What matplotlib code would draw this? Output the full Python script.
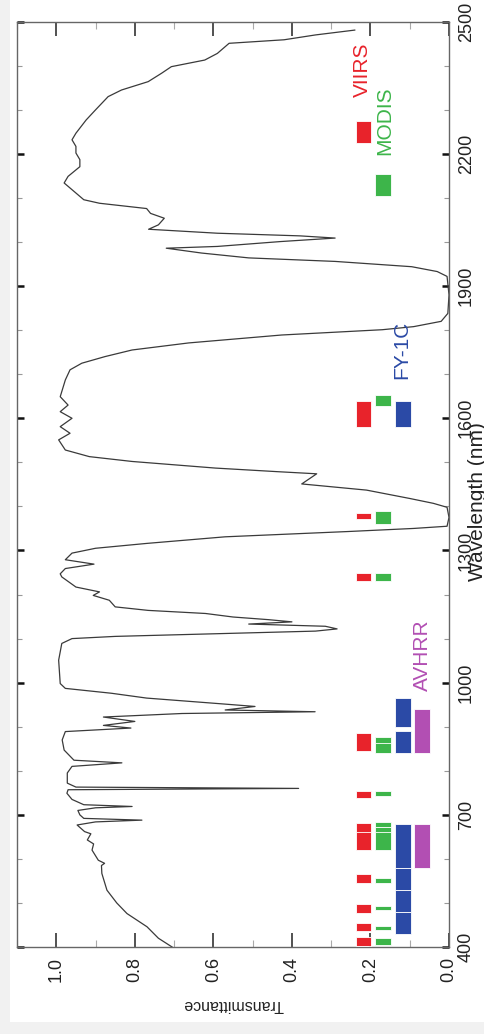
import numpy as np
import matplotlib
matplotlib.use("Agg")
import matplotlib.pyplot as plt
from matplotlib.patches import Rectangle

plt.rcParams['font.family'] = ['Liberation Sans', 'DejaVu Sans']

# atmospheric transmittance
wavelength = [400, 420, 446, 476, 500, 529, 567, 585, 590, 597, 620, 634, 643, 657, 662,
              677, 684, 688, 692, 700, 710, 716, 719, 723, 735, 749, 757, 760, 763, 772,
              795, 810, 818, 824, 847, 870, 889, 897, 903, 912, 922, 930, 934, 938, 946,
              952, 965, 976, 987, 998, 1051, 1089, 1100, 1105, 1111, 1117, 1122, 1128,
              1133, 1138, 1143, 1149, 1157, 1164, 1172, 1187, 1198, 1206, 1217, 1240,
              1247, 1259, 1269, 1274, 1279, 1294, 1305, 1316, 1331, 1343, 1350, 1355,
              1375, 1398, 1407, 1418, 1437, 1451, 1474, 1479, 1487, 1502, 1513, 1528,
              1551, 1566, 1581, 1600, 1615, 1630, 1649, 1687, 1710, 1725, 1740, 1755,
              1771, 1789, 1801, 1808, 1820, 1838, 1880, 1922, 1933, 1944, 1956, 1964,
              1975, 1986, 1990, 2001, 2009, 2014, 2020, 2029, 2039, 2054, 2065, 2076,
              2088, 2096, 2134, 2149, 2171, 2187, 2202, 2217, 2232, 2247, 2277, 2300,
              2330, 2345, 2364, 2383, 2398, 2413, 2428, 2451, 2459, 2470, 2481]
transmittance = [0.705, 0.74, 0.769, 0.82, 0.846, 0.871, 0.884, 0.885, 0.877, 0.893, 0.909,
                 0.905, 0.921, 0.912, 0.928, 0.947, 0.90, 0.782, 0.93, 0.94, 0.945, 0.90,
                 0.807, 0.93, 0.96, 0.973, 0.97, 0.383, 0.95, 0.972, 0.972, 0.96, 0.833,
                 0.955, 0.98, 0.985, 0.977, 0.81, 0.88, 0.80, 0.88, 0.68, 0.341, 0.57,
                 0.494, 0.58, 0.77, 0.86, 0.977, 0.99, 0.994, 0.986, 0.96, 0.85, 0.595,
                 0.34, 0.285, 0.315, 0.51, 0.40, 0.46, 0.55, 0.62, 0.766, 0.85, 0.865,
                 0.906, 0.89, 0.95, 0.986, 0.99, 0.977, 0.904, 0.94, 0.977, 0.96, 0.90,
                 0.77, 0.57, 0.257, 0.09, 0.005, 0.0, 0.005, 0.04, 0.10, 0.21, 0.375,
                 0.337, 0.44, 0.595, 0.807, 0.916, 0.977, 0.994, 0.965, 0.99, 0.96, 0.99,
                 0.97, 0.99, 0.977, 0.965, 0.935, 0.876, 0.807, 0.663, 0.426, 0.17, 0.09,
                 0.02, 0.003, 0.0, 0.005, 0.03, 0.095, 0.29, 0.51, 0.63, 0.72, 0.59, 0.43,
                 0.29, 0.38, 0.59, 0.765, 0.74, 0.725, 0.76, 0.77, 0.89, 0.93, 0.98, 0.97,
                 0.94, 0.94, 0.95, 0.95, 0.96, 0.95, 0.924, 0.90, 0.868, 0.834, 0.766,
                 0.732, 0.707, 0.622, 0.59, 0.56, 0.42, 0.34, 0.24]

# sensor bands (nm)
sensors = ['VIIRS', 'MODIS', 'FY-1C', 'AVHRR']
viirs_bands = [(402, 422), (436, 454), (478, 498), (545, 565), (620, 680), (662, 682),
               (739, 754), (846, 885), (1230, 1250), (1371, 1386), (1580, 1640), (2225, 2275)]
modis_bands = [(405, 420), (438, 448), (483, 493), (546, 556), (620, 670), (662, 672),
               (673, 683), (743, 753), (841, 876), (862, 877), (1230, 1250), (1360, 1390),
               (1628, 1652), (2105, 2155)]
fy1c_bands = [(430, 480), (480, 530), (530, 580), (580, 680), (840, 890), (900, 965),
              (1580, 1640)]
avhrr_bands = [(580, 680), (840, 940)]

band_sets = [viirs_bands, modis_bands, fy1c_bands, avhrr_bands]
colors = ['#e8232b', '#3db54a', '#2b4aa6', '#b24fb3']
levels = [0.218, 0.168, 0.118, 0.068]
label_pos = [(0.220, 2390), (0.163, 2276), (0.120, 1755), (0.067, 1063)]

fig = plt.figure(figsize=(4.85, 10.34), dpi=100, facecolor='#f1f1f1')
fig.add_artist(Rectangle((10 / 485, 12 / 1034), 1 - 10 / 485, 1 - 12 / 1034,
                         transform=fig.transFigure, facecolor='white',
                         edgecolor='none', zorder=-1))
ax = fig.add_axes([0.0351, 0.0841, 0.8907, 0.8949])

ax.plot(transmittance, wavelength, color='#3a3a3a', lw=0.9)

for bands, col, lev in zip(band_sets, colors, levels):
    lo = np.array([b[0] for b in bands])
    hi = np.array([b[1] for b in bands])
    ax.bar(lev, hi - lo, width=0.04, bottom=lo, color=col,
           edgecolor='white', linewidth=0.6, zorder=3)

for name, col, (t, wl) in zip(sensors, colors, label_pos):
    ax.text(t, wl, name, color=col, rotation=90, ha='center', va='center',
            fontsize=15)

ax.set_xlim(1.1, 0.0)
ax.set_ylim(400, 2500)

ax.set_xticks(np.arange(0, 1.01, 0.2))
ax.set_xticks(np.arange(0, 1.11, 0.1), minor=True)
ax.set_xticklabels(['%.1f' % v for v in np.arange(0, 1.01, 0.2)])
ax.set_yticks(np.arange(400, 2501, 300))
ax.set_yticks(np.arange(400, 2501, 100), minor=True)

ax.tick_params(axis='x', which='both', direction='in', top=True, bottom=True,
               labelrotation=90, labelsize=13, pad=7, labelcolor='#222222')
ax.tick_params(axis='x', which='major', length=10, width=1.2, color='#333333')
ax.tick_params(axis='x', which='minor', length=5, width=0.8, color='#aaaaaa')
ax.tick_params(axis='y', which='both', direction='in', left=True, right=True,
               labelleft=False, labelright=True, labelrotation=90, labelsize=13,
               pad=6.5, labelcolor='#222222')
ax.tick_params(axis='y', which='major', length=5, width=1.8, color='#111111')
ax.tick_params(axis='y', which='minor', length=3.5, width=0.8, color='#999999')
for lab in ax.get_yticklabels():
    lab.set_va('center')

for sp in ax.spines.values():
    sp.set_color('#666666')
    sp.set_linewidth(1.0)

ax.set_xlabel('Transmittance', rotation=180, rotation_mode='default',
              fontsize=11.5, va='center', color='#222222')
ax.xaxis.set_label_coords(0.5, -0.0616)
ax.yaxis.set_label_position('right')
ax.set_ylabel('Wavelength (nm)', rotation=90, fontsize=15, va='center',
              ha='center', color='#222222')
ax.yaxis.set_label_coords(1.067, 0.481)

fig.savefig('out.png', dpi=100, facecolor=fig.get_facecolor())
